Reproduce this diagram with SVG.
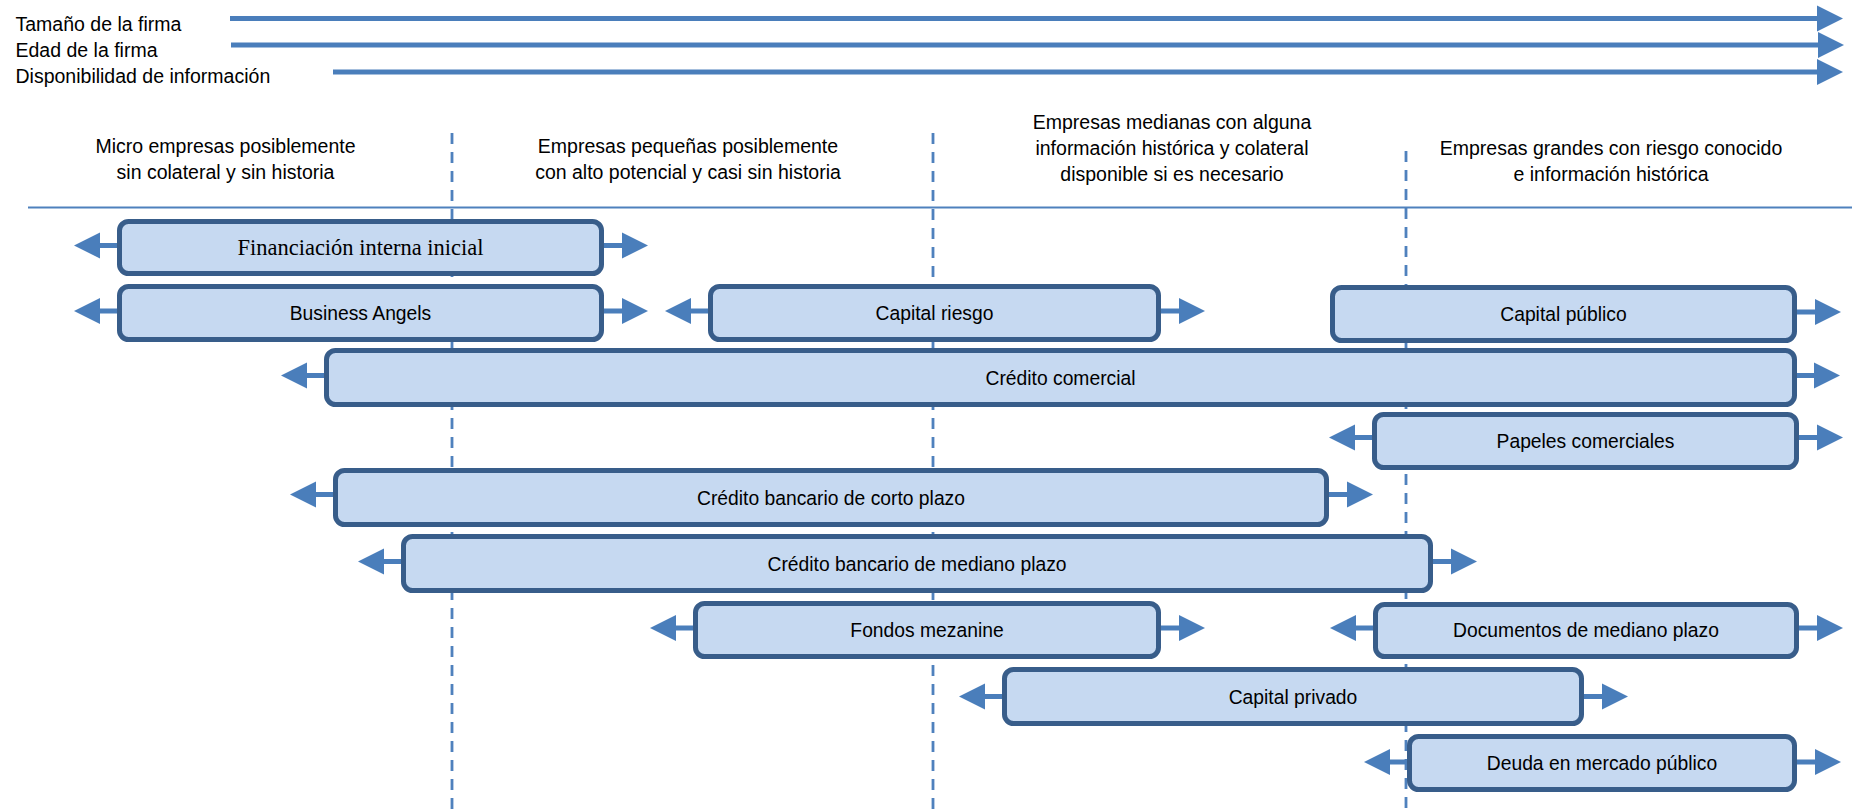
<svg xmlns="http://www.w3.org/2000/svg" width="1852" height="812" viewBox="0 0 1852 812">
<defs>
<style>
.lbl{font-family:"Liberation Sans",Arial,sans-serif;font-size:19.5px;fill:#000}
.hdr{font-family:"Liberation Sans",Arial,sans-serif;font-size:19.5px;fill:#000;text-anchor:middle}
.box rect{fill:#C6D9F1;stroke:#385D8A;stroke-width:5}
.box text{font-family:"Liberation Sans",Arial,sans-serif;font-size:19.3px;fill:#000;text-anchor:middle}
.box .serif{font-family:"Liberation Serif","Times New Roman",serif;font-size:22.5px}
.arr{fill:#4A7EBB}
.axis{stroke:#4A7EBB;stroke-width:5;fill:none}
.dash{stroke:#4F81BD;stroke-width:2.8;stroke-dasharray:11 8;fill:none}
.rule{stroke:#4F81BD;stroke-width:2;fill:none}
</style>
</defs>
<g id="axes">
<text class="lbl" x="15.5" y="30.5">Tamaño de la firma</text>
<text class="lbl" x="15.5" y="56.5">Edad de la firma</text>
<text class="lbl" x="15.5" y="82.5">Disponibilidad de información</text>
<line class="axis" x1="230" y1="18.5" x2="1818" y2="18.5"/>
<polygon class="arr" points="1817,5.5 1843,18.5 1817,31.5"/>
<line class="axis" x1="231" y1="45" x2="1818" y2="45"/>
<polygon class="arr" points="1818,32 1844,45 1818,58"/>
<line class="axis" x1="333" y1="72" x2="1818" y2="72"/>
<polygon class="arr" points="1817,59 1843,72 1817,85"/>
</g>
<g id="headers">
<text class="hdr" x="225.5" y="152.5">Micro empresas posiblemente</text>
<text class="hdr" x="225.5" y="178.5">sin colateral y sin historia</text>
<text class="hdr" x="688" y="152.5">Empresas pequeñas posiblemente</text>
<text class="hdr" x="688" y="178.5">con alto potencial y casi sin historia</text>
<text class="hdr" x="1172" y="129">Empresas medianas con alguna</text>
<text class="hdr" x="1172" y="155">información histórica y colateral</text>
<text class="hdr" x="1172" y="181">disponible si es necesario</text>
<text class="hdr" x="1611" y="155">Empresas grandes con riesgo conocido</text>
<text class="hdr" x="1611" y="181">e información histórica</text>
</g>
<g id="grid">
<line class="dash" x1="452" y1="133" x2="452" y2="812"/>
<line class="dash" x1="933" y1="133" x2="933" y2="812"/>
<line class="dash" x1="1406" y1="151" x2="1406" y2="812"/>
<line class="rule" x1="28" y1="207.5" x2="1852" y2="207.5"/>
</g>
<g id="connectors">
<rect class="arr" x="99" y="243" width="19" height="5"/><polygon class="arr" points="100,232.5 100,258.5 74,245.5"/>
<rect class="arr" x="603" y="243" width="20" height="5"/><polygon class="arr" points="622,232.5 622,258.5 648,245.5"/>
<rect class="arr" x="99" y="308.5" width="19" height="5"/><polygon class="arr" points="100,298 100,324 74,311"/>
<rect class="arr" x="603" y="308.5" width="20" height="5"/><polygon class="arr" points="622,298 622,324 648,311"/>
<rect class="arr" x="690" y="308.5" width="19" height="5"/><polygon class="arr" points="691,298 691,324 665,311"/>
<rect class="arr" x="1160" y="308.5" width="20" height="5"/><polygon class="arr" points="1179,298 1179,324 1205,311"/>
<rect class="arr" x="1796" y="309.5" width="20" height="5"/><polygon class="arr" points="1815,299 1815,325 1841,312"/>
<rect class="arr" x="306" y="373" width="19" height="5"/><polygon class="arr" points="307,362.5 307,388.5 281,375.5"/>
<rect class="arr" x="1796" y="373" width="20" height="5"/><polygon class="arr" points="1814,362.5 1814,388.5 1840,375.5"/>
<rect class="arr" x="1354" y="435" width="19" height="5"/><polygon class="arr" points="1355,424.5 1355,450.5 1329,437.5"/>
<rect class="arr" x="1798" y="435" width="20" height="5"/><polygon class="arr" points="1817,424.5 1817,450.5 1843,437.5"/>
<rect class="arr" x="315" y="492" width="19" height="5"/><polygon class="arr" points="316,481.5 316,507.5 290,494.5"/>
<rect class="arr" x="1328" y="492" width="20" height="5"/><polygon class="arr" points="1347,481.5 1347,507.5 1373,494.5"/>
<rect class="arr" x="383" y="559" width="19" height="5"/><polygon class="arr" points="384,548.5 384,574.5 358,561.5"/>
<rect class="arr" x="1432" y="559" width="20" height="5"/><polygon class="arr" points="1451,548.5 1451,574.5 1477,561.5"/>
<rect class="arr" x="675" y="625.5" width="19" height="5"/><polygon class="arr" points="676,615 676,641 650,628"/>
<rect class="arr" x="1160" y="625.5" width="20" height="5"/><polygon class="arr" points="1179,615 1179,641 1205,628"/>
<rect class="arr" x="1355" y="625.5" width="19" height="5"/><polygon class="arr" points="1356,615 1356,641 1330,628"/>
<rect class="arr" x="1798" y="625.5" width="20" height="5"/><polygon class="arr" points="1817,615 1817,641 1843,628"/>
<rect class="arr" x="984" y="694" width="19" height="5"/><polygon class="arr" points="985,683.5 985,709.5 959,696.5"/>
<rect class="arr" x="1583" y="694" width="20" height="5"/><polygon class="arr" points="1602,683.5 1602,709.5 1628,696.5"/>
<rect class="arr" x="1389" y="759.5" width="19" height="5"/><polygon class="arr" points="1390,749 1390,775 1364,762"/>
<rect class="arr" x="1796" y="759.5" width="20" height="5"/><polygon class="arr" points="1815,749 1815,775 1841,762"/>
</g>
<g id="n-financiacion" class="box"><rect x="119.5" y="221.5" width="482" height="52" rx="9"/><text class="serif" x="360.5" y="254.5">Financiación interna inicial</text></g>
<g id="n-business-angels" class="box"><rect x="119.5" y="286.5" width="482" height="53" rx="9"/><text x="360.5" y="319.5">Business Angels</text></g>
<g id="n-capital-riesgo" class="box"><rect x="710.5" y="286.5" width="448" height="53" rx="9"/><text x="934.5" y="319.5">Capital riesgo</text></g>
<g id="n-capital-publico" class="box"><rect x="1332.5" y="287.5" width="462" height="53" rx="9"/><text x="1563.5" y="320.5">Capital público</text></g>
<g id="n-credito-comercial" class="box"><rect x="326.5" y="350.5" width="1468" height="54" rx="9"/><text x="1060.5" y="384.5">Crédito comercial</text></g>
<g id="n-papeles" class="box"><rect x="1374.5" y="414.5" width="422" height="53" rx="9"/><text x="1585.5" y="447.5">Papeles comerciales</text></g>
<g id="n-corto-plazo" class="box"><rect x="335.5" y="470.5" width="991" height="54" rx="9"/><text x="831" y="504.5">Crédito bancario de corto plazo</text></g>
<g id="n-mediano-plazo" class="box"><rect x="403.5" y="536.5" width="1027" height="54" rx="9"/><text x="917" y="570.5">Crédito bancario de mediano plazo</text></g>
<g id="n-mezanine" class="box"><rect x="695.5" y="603.5" width="463" height="53" rx="9"/><text x="927" y="636.5">Fondos mezanine</text></g>
<g id="n-documentos" class="box"><rect x="1375.5" y="604.5" width="421" height="52" rx="9"/><text x="1586" y="636.5">Documentos de mediano plazo</text></g>
<g id="n-capital-privado" class="box"><rect x="1004.5" y="669.5" width="577" height="54" rx="9"/><text x="1293" y="703.5">Capital privado</text></g>
<g id="n-deuda" class="box"><rect x="1409.5" y="736.5" width="385" height="53" rx="9"/><text x="1602" y="770">Deuda en mercado público</text></g>
</svg>
